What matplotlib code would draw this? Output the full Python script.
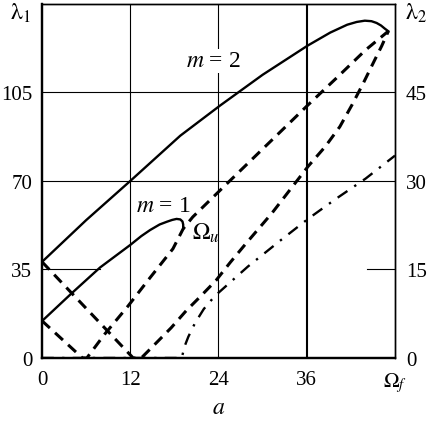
import numpy as np
import matplotlib
matplotlib.use('Agg')
from matplotlib import pyplot as plt

plt.rcParams['font.family'] = ['Liberation Serif', 'DejaVu Serif']
plt.rcParams['mathtext.fontset'] = 'stix'

# solid curves, left axis (lambda_1)
m2_x = [0, 6, 12, 18.8, 24.2, 30, 36.1, 39.2, 41.5, 42.8, 43.9, 44.8, 45.5, 46.1, 46.6, 47.1]
m2_y = [38, 54.5, 70, 87.9, 99.8, 112, 123.5, 128.7, 131.8, 132.9, 133.4, 133.2, 132.5, 131.5, 130.3, 129.2]
m1_x = [0, 4, 7.9, 12, 13.5, 14.7, 16, 17, 17.7, 18.3, 18.8, 19.1, 19.2, 19.2]
m1_y = [14.6, 25.5, 35.8, 44.7, 48.2, 50.6, 52.8, 53.9, 54.6, 55.0, 54.8, 54.0, 52.8, 51.2]

# dashed curves, right axis (lambda_2)
da_x = [0, 12.4, 13.5, 14.7, 17.55, 19.6, 21.6, 23.7, 25.6, 27.6, 31.3, 36.2, 38.5, 40.5, 42.2, 43.7, 45.2, 46.2, 47.1]
da_y = [16.3, 0, 0, 1.5, 5.1, 8.0, 10.5, 13.2, 16.2, 19.2, 24.6, 32.5, 35.8, 39.2, 43.0, 46.6, 50.4, 52.9, 55.4]
db_x = [0, 5.5, 6.1, 8.5, 11.7, 14.5, 17.8, 19.2, 20.5, 24.2, 28, 32.8, 36.1, 40, 44, 47.1]
db_y = [6.3, 0, 0, 4.0, 8.8, 13.3, 18.5, 21.9, 23.9, 28.4, 33.0, 38.8, 42.8, 47.4, 52.2, 55.4]

# dash-dot curve, right axis
dd_x = [0, 19.0, 19.4, 19.9, 20.8, 22.0, 23.5, 25.3, 28.0, 32.4, 36.2, 40.0, 44.0, 48.0]
dd_y = [0, 0, 2.0, 3.6, 5.9, 8.3, 10.5, 12.5, 15.5, 19.9, 23.6, 27.0, 30.4, 34.3]

xticks = [0, 12, 24, 36, 48]
xticklabels = ['0', '12', '24', '36', r'$\Omega_f$']
y1ticks = [0, 35, 70, 105]
y2ticks = [0, 15, 30, 45]

fig = plt.figure(figsize=(4.29, 4.27), dpi=100)
ax = fig.add_axes([0.0979, 0.1593, 0.8228, 0.829])
ax2 = ax.twinx()

ax.set_xlim(0, 48)
ax.set_ylim(0, 140)
ax2.set_ylim(0, 60)

# grid
for xv in [12, 24]:
    ax.axvline(xv, color='black', lw=0.8, zorder=1)
ax.axvline(36, color='black', lw=1.5, zorder=1)
for yv in [70, 105]:
    ax.axhline(yv, color='black', lw=0.8, zorder=1)
ax.plot([0, 7.9], [35, 35], color='black', lw=0.8, zorder=1)
ax.plot([44.2, 48], [35, 35], color='black', lw=0.8, zorder=1)

ax.plot(m2_x, m2_y, color='black', lw=1.7, zorder=3)
ax.plot(m1_x, m1_y, color='black', lw=1.7, zorder=3)

dash = (0, (3.5, 2.3))
ax2.plot(da_x, da_y, color='black', lw=2.2, linestyle=dash, zorder=3)
ax2.plot(db_x, db_y, color='black', lw=2.2, linestyle=dash, zorder=3)
ax2.plot(dd_x, dd_y, color='black', lw=1.7, linestyle=(0, (5, 3.5, 1, 3.5)), zorder=3)

ax.set_xticks(xticks)
ax.set_xticklabels(xticklabels)
ax.set_yticks(y1ticks)
ax2.set_yticks(y2ticks)
ax.tick_params(axis='y', length=0, labelsize=15, pad=7)
ax.tick_params(axis='x', length=0, labelsize=15, pad=9)
ax2.tick_params(length=0, labelsize=15, pad=8)
ax.set_xlabel(r'$a$', fontsize=17, labelpad=2)

for sp in ['left', 'bottom']:
    ax.spines[sp].set_linewidth(1.6)
    ax2.spines[sp].set_linewidth(1.6)
for sp in ['top', 'right']:
    ax.spines[sp].set_linewidth(1.0)
    ax2.spines[sp].set_linewidth(1.0)

ax.text(23.3, 117.5, r'$m$ = 2', fontsize=17, ha='center', va='center',
        bbox=dict(facecolor='white', edgecolor='none', pad=1), zorder=4)
ax.text(16.5, 60.3, r'$m$ = 1', fontsize=17, ha='center', va='center',
        bbox=dict(facecolor='white', edgecolor='none', pad=0.5), zorder=4)
ax.text(22.3, 49.5, r'$\Omega_u$', fontsize=17, ha='center', va='center', zorder=4)

fig.text(20 / 429, 1 - 13 / 427, r'$\mathrm{\lambda}_1$', fontsize=17, ha='center', va='center')
fig.text(416 / 429, 1 - 13 / 427, r'$\mathrm{\lambda}_2$', fontsize=17, ha='center', va='center')

fig.savefig('out.png', dpi=100)
